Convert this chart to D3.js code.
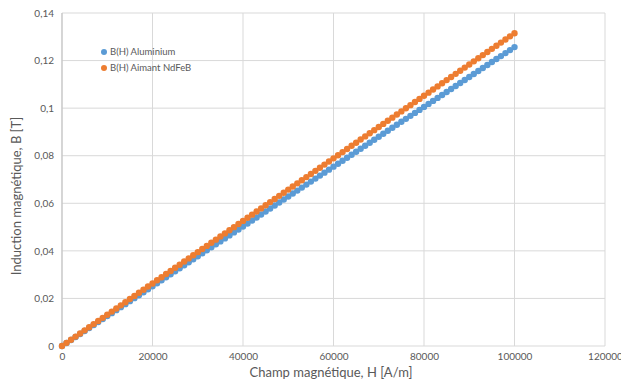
<!DOCTYPE html>
<html>
<head>
<meta charset="utf-8">
<script src="https://d3js.org/d3.v7.min.js"></script>
<style>
  body { margin: 0; background: #fff; }
  text { font-family: Lato, "Open Sans", sans-serif; fill: #595959; }
</style>
</head>
<body>
<div id="chart"></div>
<script>
// champ magnétique H [A/m]
const champH = [0, 1000, 2000, 3000, 4000, 5000, 6000, 7000, 8000, 9000,
  10000, 11000, 12000, 13000, 14000, 15000, 16000, 17000, 18000, 19000,
  20000, 21000, 22000, 23000, 24000, 25000, 26000, 27000, 28000, 29000,
  30000, 31000, 32000, 33000, 34000, 35000, 36000, 37000, 38000, 39000,
  40000, 41000, 42000, 43000, 44000, 45000, 46000, 47000, 48000, 49000,
  50000, 51000, 52000, 53000, 54000, 55000, 56000, 57000, 58000, 59000,
  60000, 61000, 62000, 63000, 64000, 65000, 66000, 67000, 68000, 69000,
  70000, 71000, 72000, 73000, 74000, 75000, 76000, 77000, 78000, 79000,
  80000, 81000, 82000, 83000, 84000, 85000, 86000, 87000, 88000, 89000,
  90000, 91000, 92000, 93000, 94000, 95000, 96000, 97000, 98000, 99000, 100000];

// B(H) Aluminium [T]
const bAluminium = [0, 0.00126, 0.00251, 0.00377, 0.00503, 0.00628, 0.00754, 0.0088, 0.01005, 0.01131,
  0.01257, 0.01382, 0.01508, 0.01634, 0.01759, 0.01885, 0.02011, 0.02136, 0.02262, 0.02388,
  0.02513, 0.02639, 0.02765, 0.0289, 0.03016, 0.03142, 0.03267, 0.03393, 0.03519, 0.03644,
  0.0377, 0.03896, 0.04021, 0.04147, 0.04273, 0.04398, 0.04524, 0.0465, 0.04775, 0.04901,
  0.05027, 0.05152, 0.05278, 0.05404, 0.05529, 0.05655, 0.0578, 0.05906, 0.06032, 0.06157,
  0.06283, 0.06409, 0.06534, 0.0666, 0.06786, 0.06911, 0.07037, 0.07163, 0.07288, 0.07414,
  0.0754, 0.07665, 0.07791, 0.07917, 0.08042, 0.08168, 0.08294, 0.08419, 0.08545, 0.08671,
  0.08796, 0.08922, 0.09048, 0.09173, 0.09299, 0.09425, 0.0955, 0.09676, 0.09801, 0.09927,
  0.10053, 0.10178, 0.10304, 0.1043, 0.10555, 0.10681, 0.10807, 0.10932, 0.11058, 0.11184,
  0.11309, 0.11435, 0.11561, 0.11686, 0.11812, 0.11938, 0.12063, 0.12189, 0.12315, 0.1244, 0.12566];

// B(H) Aimant NdFeB [T]
const bNdFeB = [0, 0.00132, 0.00263, 0.00395, 0.00526, 0.00658, 0.00789, 0.00921, 0.01052, 0.01184,
  0.01315, 0.01447, 0.01578, 0.0171, 0.01841, 0.01973, 0.02104, 0.02236, 0.02367, 0.02499,
  0.0263, 0.02762, 0.02893, 0.03025, 0.03156, 0.03288, 0.03419, 0.03551, 0.03682, 0.03814,
  0.03945, 0.04077, 0.04208, 0.0434, 0.04471, 0.04603, 0.04734, 0.04866, 0.04997, 0.05129,
  0.0526, 0.05392, 0.05523, 0.05655, 0.05786, 0.05918, 0.06049, 0.06181, 0.06312, 0.06444,
  0.06575, 0.06707, 0.06838, 0.0697, 0.07101, 0.07233, 0.07364, 0.07496, 0.07627, 0.07759,
  0.0789, 0.08022, 0.08153, 0.08285, 0.08416, 0.08548, 0.08679, 0.08811, 0.08942, 0.09074,
  0.09205, 0.09337, 0.09468, 0.096, 0.09731, 0.09863, 0.09994, 0.10126, 0.10257, 0.10389,
  0.1052, 0.10652, 0.10783, 0.10915, 0.11046, 0.11178, 0.11309, 0.11441, 0.11572, 0.11704,
  0.11835, 0.11967, 0.12098, 0.1223, 0.12361, 0.12493, 0.12624, 0.12756, 0.12887, 0.13019, 0.1315];

const xTicks = [0, 20000, 40000, 60000, 80000, 100000, 120000];
const yTicks = [0, 0.02, 0.04, 0.06, 0.08, 0.1, 0.12, 0.14];
const seriesNames = ["B(H) Aluminium", "B(H) Aimant NdFeB"];
const seriesColors = ["#5b9bd5", "#ed7d31"];

// dimensions
const W = 621, H = 383;
const margin = { top: 13, right: 16, bottom: 37, left: 62 },
    width = W - margin.left - margin.right,
    height = H - margin.top - margin.bottom;

const svg = d3.select("#chart").append("svg")
    .attr("width", W).attr("height", H);
const g = svg.append("g")
    .attr("transform", `translate(${margin.left},${margin.top})`);

const x = d3.scaleLinear().domain([0, 120000]).range([0, width]);
const y = d3.scaleLinear().domain([0, 0.14]).range([height, 0]);

const fmtY = d => d3.format("")(+d.toFixed(2)).replace(".", ",");

// grid lines
g.append("g").selectAll("line").data(yTicks).join("line")
    .attr("x1", 0).attr("x2", width)
    .attr("y1", d => y(d)).attr("y2", d => y(d))
    .attr("stroke", "#d9d9d9").attr("stroke-width", 1);
g.append("g").selectAll("line").data(xTicks).join("line")
    .attr("x1", d => x(d)).attr("x2", d => x(d))
    .attr("y1", 0).attr("y2", height)
    .attr("stroke", "#d9d9d9").attr("stroke-width", 1);

// axes (labels only)
const xAxis = g.append("g")
    .attr("transform", `translate(0,${height})`)
    .call(d3.axisBottom(x).tickValues(xTicks).tickSize(0).tickPadding(7).tickFormat(d3.format("d")));
const yAxis = g.append("g")
    .call(d3.axisLeft(y).tickValues(yTicks).tickSize(0).tickPadding(8).tickFormat(fmtY));
[xAxis, yAxis].forEach(a => {
    a.select(".domain").remove();
    a.selectAll("text").style("font-size", "10px").attr("fill", "#595959");
});
g.append("line")
    .attr("x1", 0).attr("x2", 0).attr("y1", 0).attr("y2", height)
    .attr("stroke", "#bfbfbf");

// axis titles
svg.append("text")
    .attr("x", 331).attr("y", 377)
    .attr("text-anchor", "middle")
    .style("font-size", "13px")
    .text("Champ magnétique, H [A/m]");
svg.append("text")
    .attr("transform", `translate(21,196) rotate(-90)`)
    .attr("text-anchor", "middle")
    .style("font-size", "13px")
    .text("Induction magnétique, B [T]");

// points
[bAluminium, bNdFeB].forEach((vals, s) => {
    g.append("g").selectAll("circle").data(champH).join("circle")
        .attr("cx", d => x(d))
        .attr("cy", (d, i) => y(vals[i]))
        .attr("r", 3.2)
        .attr("fill", seriesColors[s]);
});

// legend
const legend = svg.append("g").selectAll("g").data(seriesNames).join("g")
    .attr("transform", (d, i) => `translate(104,${52 + i * 16})`);
legend.append("circle").attr("r", 3).attr("fill", (d, i) => seriesColors[i]);
legend.append("text").attr("x", 6).attr("dy", "0.35em")
    .style("font-size", "9.5px").text(d => d);
</script>
</body>
</html>
